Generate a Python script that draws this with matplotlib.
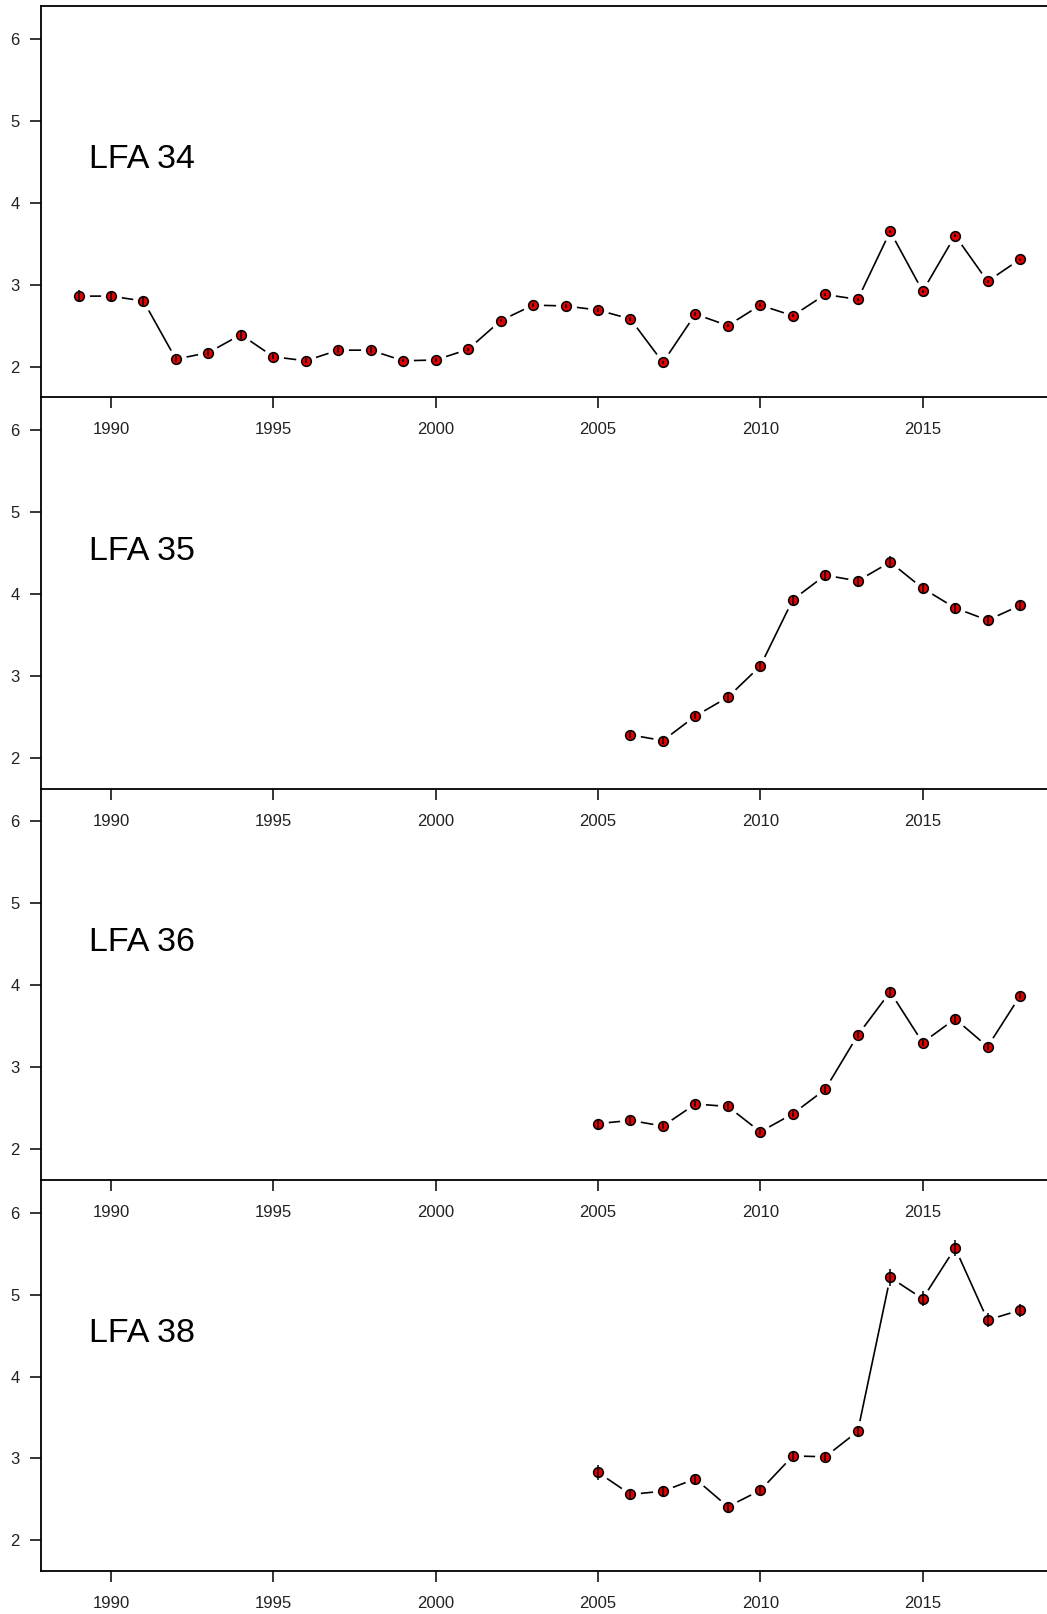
import matplotlib
matplotlib.use("Agg")
import matplotlib.pyplot as plt

plt.rcParams["font.family"] = ["Liberation Sans", "DejaVu Sans"]

# LFA 34
years_34 = list(range(1989, 2019))
vals_34 = [2.86, 2.86, 2.80, 2.09, 2.17, 2.39, 2.12, 2.07, 2.20, 2.20,
           2.07, 2.08, 2.21, 2.56, 2.75, 2.74, 2.69, 2.58, 2.05, 2.64,
           2.50, 2.75, 2.62, 2.88, 2.82, 3.65, 2.92, 3.60, 3.04, 3.31]
se_34 = [0.07, 0.06, 0.06, 0.04, 0.04, 0.05, 0.03, 0.03, 0.04, 0.04,
         0.02, 0.02, 0.02, 0.02, 0.02, 0.02, 0.02, 0.02, 0.02, 0.02,
         0.02, 0.02, 0.02, 0.02, 0.02, 0.02, 0.02, 0.02, 0.02, 0.02]

# LFA 35
years_35 = list(range(2006, 2019))
vals_35 = [2.28, 2.21, 2.51, 2.74, 3.12, 3.93, 4.23, 4.16, 4.39, 4.07, 3.83, 3.68, 3.86]
se_35 = [0.04, 0.04, 0.04, 0.05, 0.05, 0.06, 0.06, 0.06, 0.07, 0.06, 0.06, 0.06, 0.06]

# LFA 36
years_36 = list(range(2005, 2019))
vals_36 = [2.31, 2.35, 2.28, 2.55, 2.52, 2.21, 2.43, 2.73, 3.39, 3.92, 3.30, 3.59, 3.25, 3.87]
se_36 = [0.06, 0.04, 0.04, 0.04, 0.04, 0.04, 0.04, 0.04, 0.04, 0.05, 0.04, 0.05, 0.04, 0.04]

# LFA 38
years_38 = list(range(2005, 2019))
vals_38 = [2.83, 2.56, 2.60, 2.75, 2.41, 2.61, 3.03, 3.02, 3.33, 5.21, 4.95, 5.57, 4.69, 4.81]
se_38 = [0.09, 0.06, 0.06, 0.06, 0.06, 0.05, 0.05, 0.05, 0.06, 0.10, 0.09, 0.10, 0.09, 0.08]

panels = [
    ("LFA 34", years_34, vals_34, se_34),
    ("LFA 35", years_35, vals_35, se_35),
    ("LFA 36", years_36, vals_36, se_36),
    ("LFA 38", years_38, vals_38, se_38),
]

W, H = 1047, 1614
fig = plt.figure(figsize=(W / 100, H / 100), dpi=100)

left = 40.7 / W
top_px = 6.0
panel_h = 391.25
for i, (name, yrs, vals, se) in enumerate(panels):
    y0 = top_px + i * panel_h
    ax = fig.add_axes([left, 1 - (y0 + panel_h) / H, 1 - left, panel_h / H])
    # type="b" style: line with gaps around the points
    ax.plot(yrs, vals, color="black", lw=1.2, zorder=1)
    ax.plot(yrs, vals, "o", ms=14, mfc="white", mec="white", zorder=2)
    ax.plot(yrs, vals, "o", ms=7, mfc="#e00000", mec="black", mew=1.1, zorder=3)
    ax.errorbar(yrs, vals, yerr=se, fmt="none", ecolor="black", elinewidth=1.1,
                capsize=0, zorder=4)
    ax.text(0.048, 0.607, name, transform=ax.transAxes, fontsize=24.5,
            ha="left", va="center", color="black")

    ax.set_xlim(1987.835, 2018.83)
    ax.set_ylim(1.625, 6.403)
    ax.set_xticks([1990, 1995, 2000, 2005, 2010, 2015])
    ax.set_yticks([2, 3, 4, 5, 6])
    ax.tick_params(axis="both", direction="out", length=8, width=1.1,
                   labelsize=12, colors="black", labelcolor="#222222")
    ax.tick_params(axis="x", pad=10)
    ax.tick_params(axis="y", pad=7)
    ax.spines["right"].set_visible(False)
    ax.spines["top"].set_visible(i == 0)
    for s in ("left", "bottom", "top"):
        ax.spines[s].set_linewidth(1.3)
    ax.patch.set_alpha(0)

fig.savefig("out.png", dpi=100)
